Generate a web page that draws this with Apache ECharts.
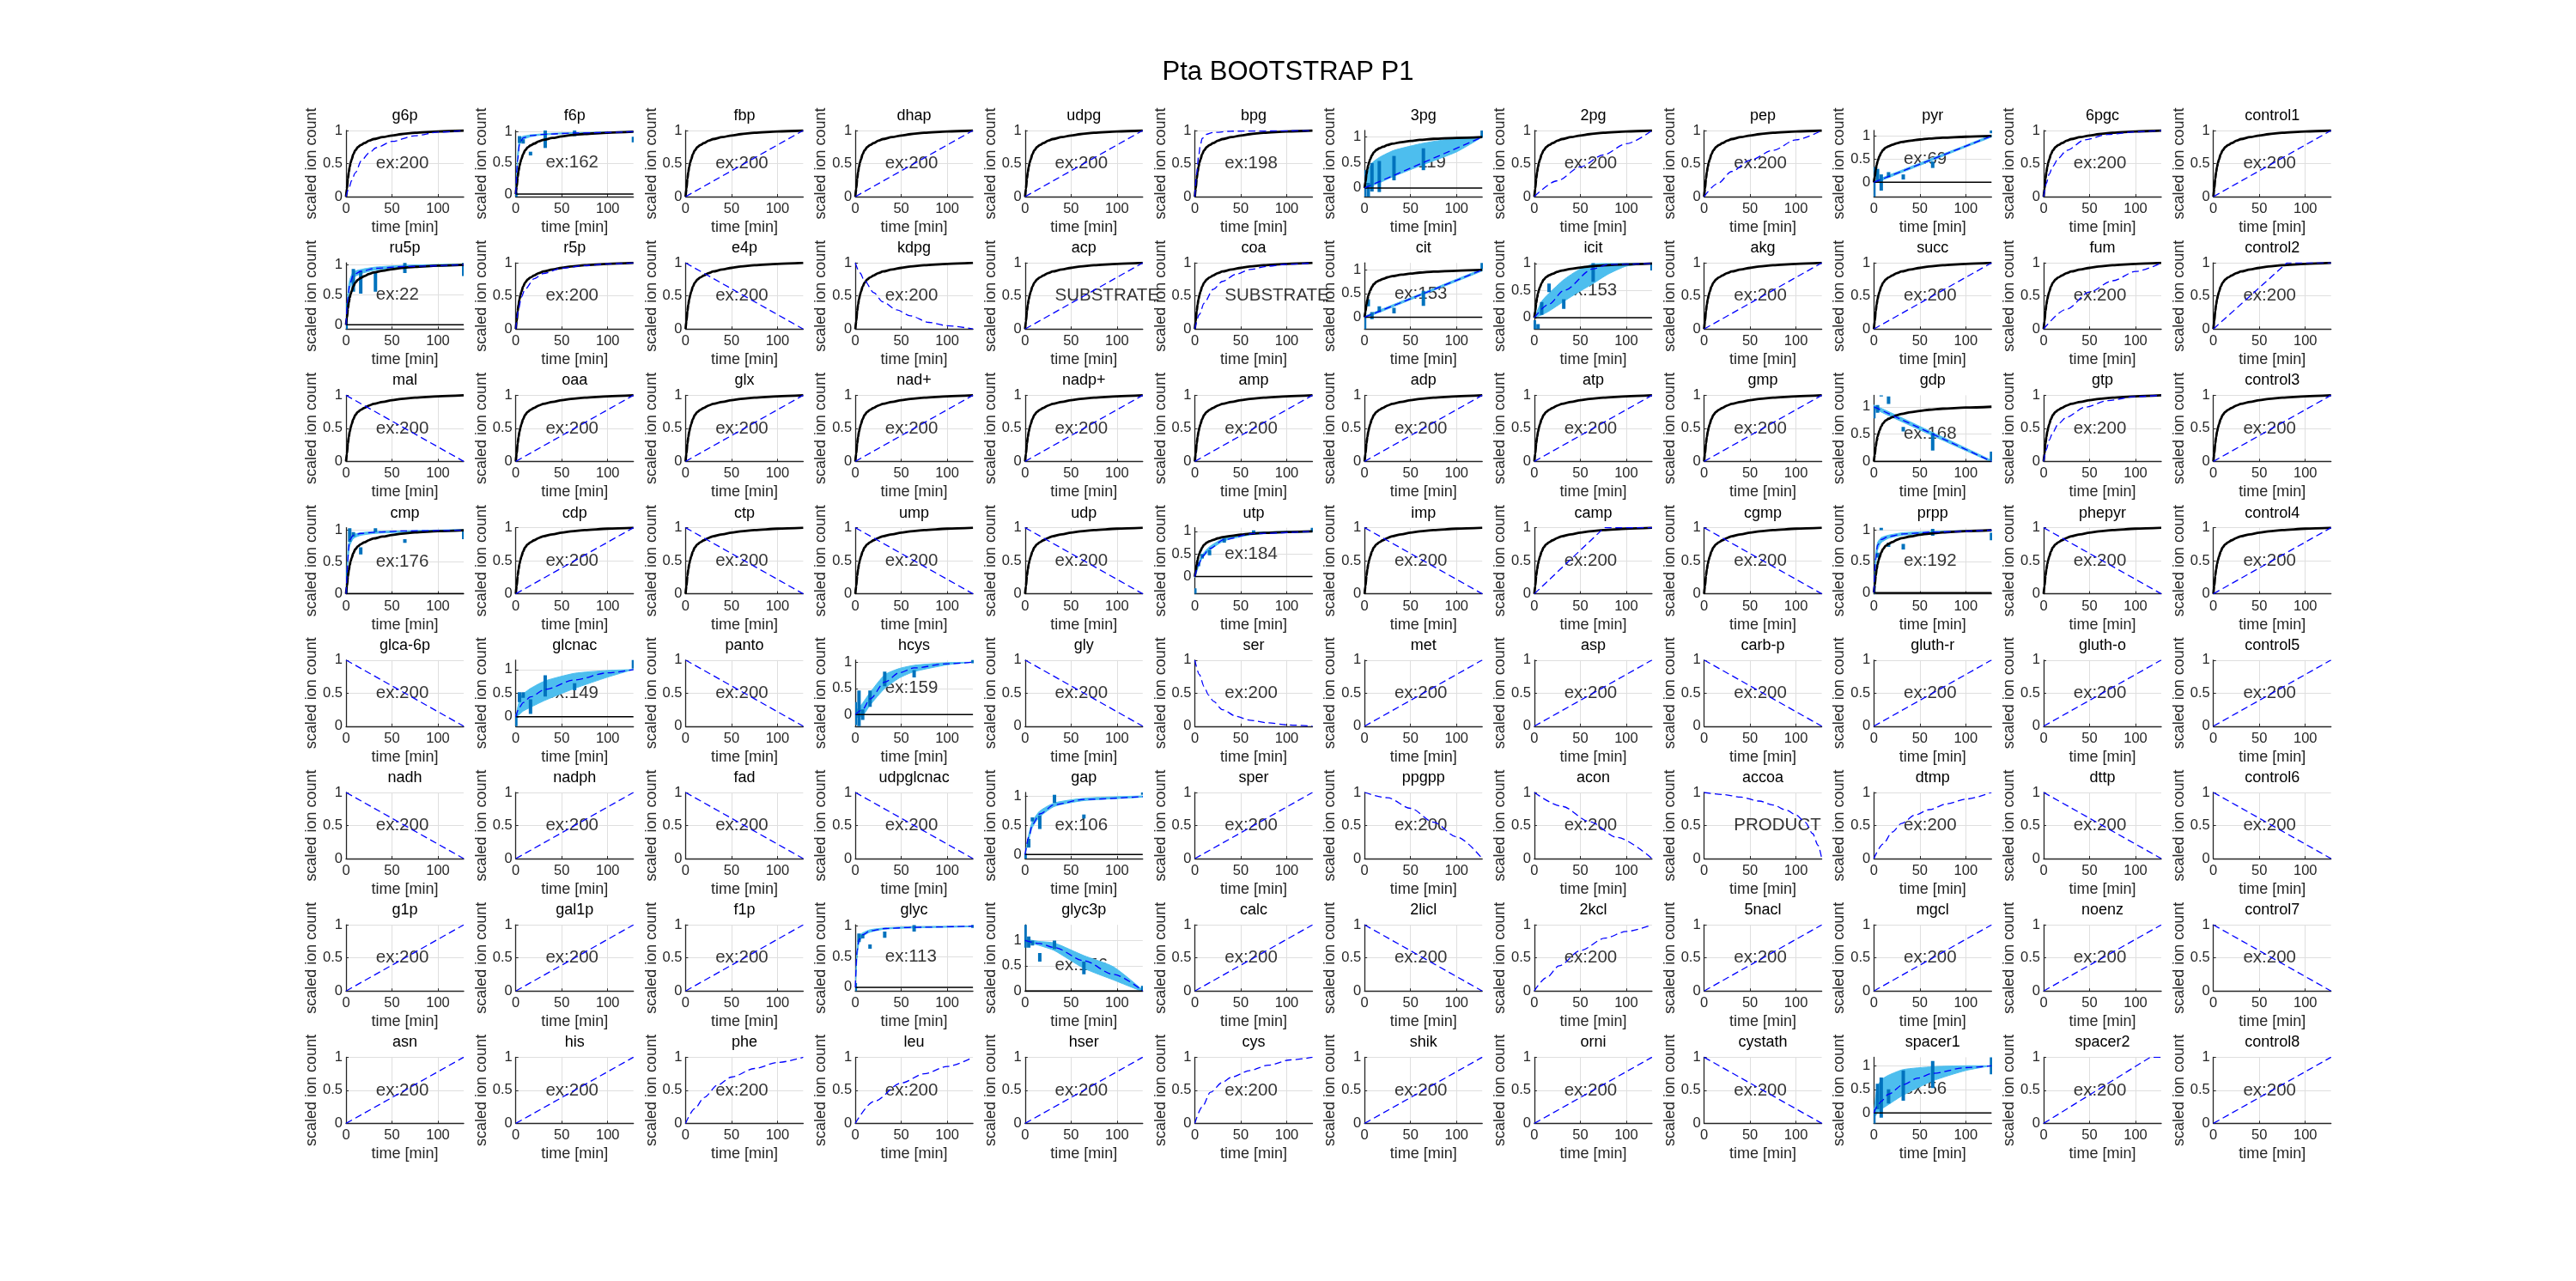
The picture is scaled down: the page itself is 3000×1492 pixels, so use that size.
<!DOCTYPE html>
<html>
<head>
<meta charset="utf-8">
<script src="https://cdn.jsdelivr.net/npm/echarts@6/dist/echarts.min.js"></script>
<style>html,body{margin:0;padding:0;background:#fff}#c{width:3000px;height:1492px}</style>
</head>
<body>
<div id="c"></div>
<script>
// ---------------- DATA ----------------
const chartTitle = 'Pta BOOTSTRAP P1';
const panelNames = [
 'g6p','f6p','fbp','dhap','udpg','bpg','3pg','2pg','pep','pyr','6pgc','control1',
 'ru5p','r5p','e4p','kdpg','acp','coa','cit','icit','akg','succ','fum','control2',
 'mal','oaa','glx','nad+','nadp+','amp','adp','atp','gmp','gdp','gtp','control3',
 'cmp','cdp','ctp','ump','udp','utp','imp','camp','cgmp','prpp','phepyr','control4',
 'glca-6p','glcnac','panto','hcys','gly','ser','met','asp','carb-p','gluth-r','gluth-o','control5',
 'nadh','nadph','fad','udpglcnac','gap','sper','ppgpp','acon','accoa','dtmp','dttp','control6',
 'g1p','gal1p','f1p','glyc','glyc3p','calc','2licl','2kcl','5nacl','mgcl','noenz','control7',
 'asn','his','phe','leu','hser','cys','shik','orni','cystath','spacer1','spacer2','control8'];
const panelNotes = [
 'ex:200','ex:162','ex:200','ex:200','ex:200','ex:198','ex:119','ex:200','ex:200','ex:69','ex:200','ex:200',
 'ex:22','ex:200','ex:200','ex:200','SUBSTRATE','SUBSTRATE','ex:153','ex:153','ex:200','ex:200','ex:200','ex:200',
 'ex:200','ex:200','ex:200','ex:200','ex:200','ex:200','ex:200','ex:200','ex:200','ex:168','ex:200','ex:200',
 'ex:176','ex:200','ex:200','ex:200','ex:200','ex:184','ex:200','ex:200','ex:200','ex:192','ex:200','ex:200',
 'ex:200','ex:149','ex:200','ex:159','ex:200','ex:200','ex:200','ex:200','ex:200','ex:200','ex:200','ex:200',
 'ex:200','ex:200','ex:200','ex:200','ex:106','ex:200','ex:200','ex:200','PRODUCT','ex:200','ex:200','ex:200',
 'ex:200','ex:200','ex:200','ex:113','ex:156','ex:200','ex:200','ex:200','ex:200','ex:200','ex:200','ex:200',
 'ex:200','ex:200','ex:200','ex:200','ex:200','ex:200','ex:200','ex:200','ex:200','ex:56','ex:200','ex:200'];
const notePos = [32, 0.5];
const xTicks = [0, 50, 100];
const yTicks = [0, 0.5, 1];
const xRange = [0, 128];
const defaultYRange = [0, 1];
const blackRows = 4; // first four rows carry the black reference curve

// black reference curve (rows 1-4)
const blackCurve = [[0,0],[1,0.12],[2,0.27],[3,0.37],[4,0.45],[5,0.51],[6,0.56],[8,0.64],[10,0.7],[13,0.75],[16,0.78],[20,0.81],[25,0.845],[30,0.87],[40,0.9],[50,0.925],[60,0.945],[75,0.965],[100,0.985],[128,1]];
const zeroLine = [[0,0],[128,0]];

// dashed model curves
const dashUp = [[0,0],[128,1]];
const dashDown = [[0,1],[128,0]];
const dashG6p = [[0,0],[3,0.12],[6,0.24],[10,0.36],[17,0.55],[25,0.66],[33,0.74],[50,0.835],[75,0.92],[100,0.975],[128,1]];
const dashBpg = [[0,0],[2,0.35],[4,0.6],[6,0.78],[8,0.88],[12,0.94],[20,0.97],[40,0.99],[128,1]];
const dash2pg = [[0,0],[25,0.24],[50,0.45],[75,0.63],[100,0.8],[128,1]];
const dashPep = [[0,0],[15,0.2],[30,0.38],[50,0.55],[75,0.7],[100,0.86],[128,1]];
const dash6pgc = [[0,0],[3,0.2],[6,0.34],[10,0.46],[16,0.58],[25,0.7],[45,0.86],[70,0.94],[100,0.98],[128,1]];
const dashR5p = [[0,0],[3,0.3],[6,0.48],[10,0.6],[20,0.76],[30,0.84],[50,0.92],[75,0.96],[100,0.985],[128,1]];
const dashKdpg = [[0,1],[5,0.85],[10,0.73],[20,0.55],[30,0.41],[45,0.29],[60,0.2],[80,0.1],[100,0.05],[128,0]];
const dashCoa = [[0,0],[5,0.22],[10,0.39],[20,0.6],[30,0.72],[45,0.83],[60,0.9],[80,0.95],[100,0.98],[128,1]];
const dashFum = [[0,0],[25,0.3],[50,0.56],[75,0.73],[100,0.87],[128,1]];
const dashControl2 = [[0,0],[80,1],[128,1]];
const dashGtp = [[0,0],[3,0.18],[6,0.32],[10,0.44],[16,0.57],[25,0.67],[45,0.82],[70,0.92],[100,0.98],[128,1]];
const dashCamp = [[0,0],[76,1],[128,1]];
const dashSer = [[0,1],[5,0.78],[10,0.6],[15,0.47],[20,0.38],[30,0.25],[45,0.15],[60,0.09],[80,0.05],[100,0.02],[128,0]];
const dashPpgpp = [[0,1],[25,0.92],[50,0.76],[75,0.55],[100,0.33],[128,0]];
const dashAcon = [[0,1],[30,0.79],[60,0.56],[90,0.32],[128,0]];
const dashAccoa = [[0,1],[20,0.97],[40,0.93],[60,0.87],[75,0.81],[90,0.73],[100,0.66],[110,0.55],[118,0.38],[124,0.2],[128,0]];
const dashDtmp = [[0,0],[10,0.22],[20,0.4],[30,0.53],[45,0.66],[60,0.74],[80,0.83],[100,0.9],[128,1]];
const dashKcl = [[0,0],[13,0.2],[27,0.38],[50,0.61],[77,0.8],[100,0.9],[128,1]];
const dashPhe = [[0,0],[10,0.22],[20,0.39],[35,0.58],[50,0.7],[75,0.83],[100,0.92],[128,1]];
const dashLeu = [[0,0],[20,0.33],[50,0.61],[75,0.75],[100,0.86],[128,1]];
const dashCys = [[0,0],[8,0.25],[17,0.47],[30,0.62],[40,0.7],[60,0.8],[80,0.88],[104,0.96],[128,1]];
const dashSpacer2 = [[0,0],[116,1],[128,1]];
const dashF6p = [[0,0],[2,0.55],[4,0.8],[8,0.9],[16,0.94],[32,0.96],[64,0.98],[128,1]];
const dashRu5p = [[0,0],[2,0.45],[4,0.68],[8,0.83],[16,0.89],[32,0.94],[64,0.97],[128,1]];
const dashIcit = [[0,0],[16,0.25],[32,0.5],[64,0.9],[80,0.98],[128,1]];
const dashCmp = [[0,0],[4,0.85],[8,0.92],[16,0.95],[32,0.97],[64,0.99],[128,1]];
const dashUtp = [[0,0],[4,0.26],[8,0.44],[16,0.62],[32,0.82],[64,0.95],[128,1]];
const dashPrpp = [[0,0],[2,0.55],[4,0.76],[8,0.85],[16,0.9],[32,0.94],[64,0.97],[128,1]];
const dashGlcnac = [[0,0],[4,0.2],[8,0.3],[16,0.42],[32,0.58],[64,0.78],[100,0.93],[128,1]];
const dashHcys = [[0,0],[8,0.1],[16,0.3],[32,0.62],[48,0.8],[64,0.89],[100,0.97],[128,1]];
const dashGap = [[0,0],[4,0.3],[8,0.52],[16,0.7],[32,0.86],[64,0.95],[128,1]];
const dashGlyc = [[0,0],[2,0.6],[4,0.78],[8,0.86],[16,0.92],[32,0.96],[64,0.98],[128,1]];
const dashGlyc3p = [[0,1],[16,0.94],[32,0.86],[64,0.6],[96,0.33],[128,0]];
const dashSpacer1 = [[0,0],[4,0.15],[8,0.25],[16,0.4],[32,0.6],[48,0.74],[64,0.84],[100,0.96],[128,1]];

const panelDash = [
 dashG6p,dashF6p,dashUp,dashUp,dashUp,dashBpg,dashUp,dash2pg,dashPep,dashUp,dash6pgc,dashUp,
 dashRu5p,dashR5p,dashDown,dashKdpg,dashUp,dashCoa,dashUp,dashIcit,dashUp,dashUp,dashFum,dashControl2,
 dashDown,dashUp,dashUp,dashUp,dashUp,dashUp,dashUp,dashUp,dashUp,dashDown,dashGtp,dashUp,
 dashCmp,dashUp,dashDown,dashDown,dashDown,dashUtp,dashDown,dashCamp,dashDown,dashPrpp,dashDown,dashUp,
 dashDown,dashGlcnac,dashDown,dashHcys,dashDown,dashSer,dashUp,dashUp,dashDown,dashUp,dashUp,dashUp,
 dashDown,dashUp,dashDown,dashDown,dashGap,dashUp,dashPpgpp,dashAcon,dashAccoa,dashDtmp,dashDown,dashDown,
 dashUp,dashUp,dashUp,dashGlyc,dashGlyc3p,dashUp,dashDown,dashKcl,dashUp,dashUp,dashUp,dashDown,
 dashUp,dashUp,dashPhe,dashLeu,dashUp,dashCys,dashUp,dashUp,dashDown,dashSpacer1,dashSpacer2,dashUp];

// measured panels: y range, bootstrap band [t, lo, hi], error bars [t, lo, hi]
const f6pYRange = [-0.04, 1.02];
const f6pBand = [[0,0,0],[2,0.5,0.65],[4,0.78,0.88],[6,0.85,0.91],[8,0.88,0.93],[12,0.9,0.94],[16,0.92,0.95],[24,0.94,0.96],[32,0.95,0.97],[48,0.965,0.98],[64,0.975,0.985],[96,0.985,0.995],[128,0.995,1.005]];
const f6pBars = [[0,-0.04,0.03],[4,0.82,0.93],[8,0.81,0.88],[16,0.62,0.68],[32,0.74,1.03],[64,0.93,1.03],[128,0.83,0.92]];

const pg3YRange = [-0.17, 1.13];
const pg3Band = [[0,0,0],[4,0,0.35],[8,0.04,0.49],[16,0.1,0.6],[32,0.23,0.74],[64,0.46,0.88],[100,0.71,0.98],[128,1,1]];
const pg3Bars = [[0,-0.18,0.35],[4,-0.2,0.1],[8,-0.07,0.49],[16,-0.08,0.53],[32,0.15,0.63],[64,0.35,0.78],[128,0.99,1.16]];

const pyrYRange = [-0.31, 1.12];
const pyrBand = [[0,-0.02,0.02],[32,0.225,0.275],[64,0.475,0.525],[96,0.73,0.77],[128,0.98,1.02]];
const pyrBars = [[0,-0.35,0.33],[4,0,0.29],[8,-0.18,0.17],[16,0.11,0.22],[32,0.06,0.17],[64,0.31,0.45],[128,1.06,1.15]];

const ru5pYRange = [-0.07, 1.03];
const ru5pBand = [[0,0,0],[2,0.35,0.55],[4,0.6,0.75],[8,0.78,0.88],[16,0.85,0.92],[32,0.91,0.96],[64,0.95,0.99],[128,0.99,1.01]];
const ru5pBars = [[0,-0.1,0.36],[8,0.55,0.93],[16,0.52,0.9],[32,0.55,0.88],[64,0.86,1.06],[128,0.81,1.05]];

const citYRange = [-0.25, 1.15];
const citBand = [[0,-0.02,0.02],[64,0.48,0.52],[128,0.98,1.02]];
const citBars = [[0,-0.28,-0.01],[4,0.23,0.38],[8,-0.04,0.11],[16,0.11,0.23],[32,0.08,0.2],[64,0.24,0.56],[128,1.02,1.19]];

const icitYRange = [-0.21, 1.01];
const icitBand = [[0,0,0],[8,0.05,0.3],[16,0.12,0.45],[32,0.3,0.7],[48,0.47,0.88],[64,0.63,0.99],[80,0.8,1],[100,0.95,1],[128,1,1]];
const icitBars = [[0,-0.24,-0.05],[4,-0.24,-0.12],[8,0.05,0.29],[16,0.47,0.63],[32,0.16,0.34],[64,0.66,1.01],[128,0.87,1.04]];

const gdpYRange = [0, 1.21];
const gdpBand = [[0,0.97,1.03],[64,0.47,0.53],[128,-0.01,0.02]];
const gdpBars = [[0,0.79,1],[4,0.89,1.03],[8,1.19,1.25],[16,1.05,1.19],[32,0.55,0.63],[64,0.2,0.52],[128,0.02,0.18]];

const cmpYRange = [0, 1.04];
const cmpBand = [[0,0,0],[2,0.5,0.7],[4,0.75,0.86],[8,0.87,0.93],[16,0.92,0.96],[32,0.95,0.98],[64,0.97,0.99],[128,0.99,1.01]];
const cmpBars = [[0,0,0.38],[4,0.82,1.03],[8,0.9,0.97],[16,0.62,0.73],[32,0.97,1.03],[64,0.8,0.86],[128,0.86,1]];

const utpYRange = [-0.38, 1.08];
const utpBand = [[0,-0.02,0.02],[4,0.22,0.3],[8,0.4,0.48],[16,0.58,0.66],[32,0.79,0.85],[64,0.93,0.97],[128,0.99,1.01]];
const utpBars = [[0,-0.41,-0.26],[4,0.23,0.32],[8,0.4,0.5],[16,0.47,0.59],[32,0.75,0.84],[64,0.96,1.02],[128,0.99,1.08]];

const prppYRange = [-0.02, 1.04];
const prppBand = [[0,0,0],[2,0.45,0.62],[4,0.68,0.8],[8,0.8,0.88],[16,0.87,0.92],[32,0.92,0.96],[64,0.96,0.98],[128,0.99,1]];
const prppBars = [[0,-0.04,0.11],[4,0.56,0.64],[8,1,1.04],[16,0.73,0.8],[32,0.69,0.78],[64,0.91,1.02],[128,0.84,0.96]];

const glcnacYRange = [-0.2, 1.2];
const glcnacBand = [[0,0,0],[4,0.05,0.35],[8,0.12,0.48],[16,0.2,0.6],[32,0.35,0.76],[64,0.6,0.92],[100,0.84,0.98],[128,1,1]];
const glcnacBars = [[0,-0.25,0.06],[4,0.31,0.52],[8,0.4,0.52],[16,0.06,0.37],[32,0.43,0.88],[64,0.56,0.71],[128,1.02,1.24]];

const hcysYRange = [-0.22, 1.04];
const hcysBand = [[0,-0.05,0.05],[8,-0.02,0.22],[16,0.18,0.42],[32,0.5,0.76],[48,0.7,0.88],[64,0.82,0.94],[100,0.95,0.99],[128,1,1]];
const hcysBars = [[0,-0.2,0.24],[4,-0.26,0.46],[8,-0.1,0.1],[16,0.15,0.46],[32,0.54,0.82],[64,0.71,0.85],[128,0.98,1.08]];

const gapYRange = [-0.07, 1.07];
const gapBand = [[0,0,0],[4,0.25,0.35],[8,0.47,0.57],[16,0.65,0.75],[32,0.83,0.89],[64,0.93,0.97],[128,0.99,1.01]];
const gapBars = [[0,-0.1,0.02],[4,0.12,0.27],[8,0.57,0.64],[16,0.44,0.67],[32,0.89,1.03],[64,0.62,0.69],[128,1.03,1.1]];

const glycYRange = [-0.06, 1.02];
const glycBand = [[0,0,0],[2,0.5,0.68],[4,0.72,0.84],[8,0.83,0.89],[16,0.9,0.94],[32,0.95,0.97],[64,0.97,0.99],[128,0.99,1]];
const glycBars = [[0,-0.09,0.07],[4,0.74,0.88],[8,0.8,0.86],[16,0.63,0.7],[32,0.81,0.91],[64,0.91,1.02],[128,0.97,1.04]];

const glyc3pYRange = [0, 1.31];
const glyc3pBand = [[0,0.98,1.02],[16,0.9,0.98],[32,0.8,0.95],[64,0.45,0.7],[96,0.22,0.48],[128,-0.01,0.02]];
const glyc3pBars = [[0,0.86,1.34],[4,0.86,1.08],[8,0.9,1],[16,0.58,0.75],[32,0.83,1],[64,0.33,0.58],[128,-0.01,0.1]];

const spacer1YRange = [-0.22, 1.18];
const spacer1Band = [[0,0,0],[2,-0.05,0.35],[4,0,0.55],[8,0.08,0.7],[16,0.18,0.8],[32,0.38,0.92],[64,0.68,0.98],[100,0.9,1],[128,1,1]];
const spacer1Bars = [[0,-0.25,0.08],[4,0.08,0.62],[8,-0.1,0.75],[16,0.2,0.5],[32,0.26,0.9],[64,0.53,1.1],[128,0.82,1.2]];

// ---------------- BUILD ----------------
const measured = {
  'f6p':[f6pYRange,f6pBand,f6pBars], '3pg':[pg3YRange,pg3Band,pg3Bars], 'pyr':[pyrYRange,pyrBand,pyrBars],
  'ru5p':[ru5pYRange,ru5pBand,ru5pBars], 'cit':[citYRange,citBand,citBars], 'icit':[icitYRange,icitBand,icitBars],
  'gdp':[gdpYRange,gdpBand,gdpBars], 'cmp':[cmpYRange,cmpBand,cmpBars], 'utp':[utpYRange,utpBand,utpBars],
  'prpp':[prppYRange,prppBand,prppBars], 'glcnac':[glcnacYRange,glcnacBand,glcnacBars], 'hcys':[hcysYRange,hcysBand,hcysBars],
  'gap':[gapYRange,gapBand,gapBars], 'glyc':[glycYRange,glycBand,glycBars], 'glyc3p':[glyc3pYRange,glyc3pBand,glyc3pBars],
  'spacer1':[spacer1YRange,spacer1Band,spacer1Bars]
};

const FONT = '"Liberation Sans", Arial, Helvetica, sans-serif';
const AX = '#262626';
const COLS = 12;
const left0 = 403, colStep = 197.7, top0 = 152, rowStep = 154.2, gw = 137, gh = 77;

const grids = [], xAxes = [], yAxes = [], series = [], graphics = [];

graphics.push({type:'text', x:1500, y:84, style:{text:chartTitle, fontSize:31, fontFamily:FONT, fill:'#000', textAlign:'center', textVerticalAlign:'middle'}});

panelNames.forEach((name, i) => {
  const r = Math.floor(i / COLS), c = i % COLS;
  const L = left0 + c * colStep, T = top0 + r * rowStep;
  grids.push({left:L, top:T, width:gw, height:gh, containLabel:false});
  const m = measured[name];
  const yr = m ? m[0] : defaultYRange;
  xAxes.push({
    gridIndex:i, type:'value', min:xRange[0], max:xRange[1],
    axisLine:{show:true, onZero:false, lineStyle:{color:AX, width:1.3}},
    axisTick:{show:true, inside:true, length:3, customValues:xTicks, lineStyle:{color:AX}},
    axisLabel:{customValues:xTicks, fontSize:16.5, color:AX, margin:6, fontFamily:FONT},
    splitLine:{show:true, lineStyle:{color:'#dfdfdf', width:1}},
    name:'time [min]', nameLocation:'middle', nameGap:27,
    nameTextStyle:{fontSize:18, color:AX, fontFamily:FONT}
  });
  yAxes.push({
    gridIndex:i, type:'value', min:yr[0], max:yr[1],
    axisLine:{show:true, onZero:false, lineStyle:{color:AX, width:1.3}},
    axisTick:{show:true, inside:true, length:3, customValues:yTicks, lineStyle:{color:AX}},
    axisLabel:{customValues:yTicks, fontSize:16.5, color:AX, margin:4, fontFamily:FONT},
    splitLine:{show:true, lineStyle:{color:'#dfdfdf', width:1}},
    name:'scaled ion count', nameLocation:'middle', nameGap:30,
    nameTextStyle:{fontSize:18, color:AX, fontFamily:FONT}
  });
  graphics.push({type:'text', x:L + gw/2, y:T - 17, style:{text:name, fontSize:18, fontFamily:FONT, fill:'#000', textAlign:'center', textVerticalAlign:'middle'}});

  // note text (drawn underneath data)
  series.push({type:'scatter', xAxisIndex:i, yAxisIndex:i, z:1, silent:true, symbolSize:1,
    itemStyle:{color:'rgba(0,0,0,0)'}, data:[notePos],
    label:{show:true, position:'right', distance:0, formatter:panelNotes[i], fontSize:20.5, color:'#000', fontFamily:FONT}});

  if (m) {
    const band = m[1], bars = m[2];
    series.push({type:'custom', xAxisIndex:i, yAxisIndex:i, z:3, clip:true, silent:true,
      data:band, encode:{x:0, y:[1,2]},
      renderItem:(params, api) => {
        if (params.dataIndex !== 0) return null;
        const pts = [];
        for (let k = 0; k < band.length; k++) pts.push(api.coord([band[k][0], band[k][1]]));
        for (let k = band.length - 1; k >= 0; k--) pts.push(api.coord([band[k][0], band[k][2]]));
        return {type:'polygon', shape:{points:pts, smooth:0.2}, style:{fill:'#4DBEEE', stroke:'#4DBEEE', lineWidth:1}};
      }});
    series.push({type:'custom', xAxisIndex:i, yAxisIndex:i, z:4, clip:true, silent:true,
      data:bars, encode:{x:0, y:[1,2]},
      renderItem:(params, api) => {
        const p1 = api.coord([api.value(0), api.value(1)]);
        const p2 = api.coord([api.value(0), api.value(2)]);
        return {type:'line', shape:{x1:p1[0], y1:p1[1], x2:p2[0], y2:p2[1]}, style:{stroke:'#0072BD', lineWidth:4}};
      }});
    series.push({type:'line', xAxisIndex:i, yAxisIndex:i, z:5, silent:true, showSymbol:false, data:zeroLine,
      lineStyle:{color:'#000', width:1.5}});
  }
  if (r < blackRows) {
    series.push({type:'line', xAxisIndex:i, yAxisIndex:i, z:6, silent:true, showSymbol:false, smooth:0.3, smoothMonotone:'x', data:blackCurve,
      lineStyle:{color:'#000', width:2.8}});
  }
  const dc = panelDash[i];
  series.push({type:'line', xAxisIndex:i, yAxisIndex:i, z:7, silent:true, showSymbol:false,
    smooth: dc.length > 3 ? 0.3 : false, smoothMonotone:'x', data:dc,
    lineStyle:{color:'#0000FF', width:1.3, type:[8,4.5]}});
});

const chart = echarts.init(document.getElementById('c'), null, {renderer:'canvas'});
chart.setOption({
  animation:false, backgroundColor:'#fff',
  grid:grids, xAxis:xAxes, yAxis:yAxes, series:series, graphic:graphics
});
</script>
</body>
</html>
